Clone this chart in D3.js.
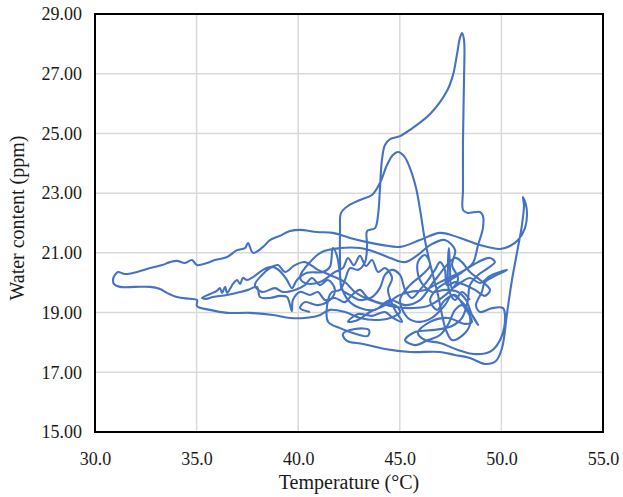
<!DOCTYPE html>
<html>
<head>
<meta charset="utf-8">
<script src="https://cdn.jsdelivr.net/npm/d3@7"></script>
<style>
  body { margin: 0; background: #fff; }
</style>
</head>
<body>
<svg id="chart" width="623" height="497"></svg>
<script>
// Tick values
var xTicks = [30, 35, 40, 45, 50, 55];
var yTicks = [15, 17, 19, 21, 23, 25, 27, 29];

// Trajectory: temperature (°C) and water content (ppm)
var temp = [
  48.45, 48.06, 47.72, 47.42, 47.37, 47.42, 47.47, 47.57, 47.96, 48.45,
  48.95, 49.44, 49.93, 50.28, 49.78, 49.19, 49.04, 48.75, 48.95, 49.54,
  50.08, 50.18, 49.98, 49.49, 48.65, 47.86, 46.98, 46.24, 45.89, 46.49,
  47.37, 48.21, 48.55, 48.11, 47.72, 47.22, 46.83, 46.49, 46.88, 47.32,
  47.81, 48.21, 48.60, 48.85, 49.09, 49.09, 48.95, 48.31, 48.11, 48.11,
  48.11, 48.16, 48.16, 48.06, 47.96, 47.81, 47.62, 47.32, 46.49, 45.50,
  45.01, 44.52, 44.27, 44.12, 44.02, 43.93, 43.78, 43.39, 43.39, 43.29,
  42.94, 42.55, 42.30, 42.06, 41.66, 41.47, 41.47, 42.06, 42.55, 43.43,
  43.48, 42.79, 42.20, 42.40, 43.19, 44.27, 45.50, 46.98, 47.72, 48.45,
  49.19, 49.73, 50.03, 50.28, 50.52, 50.82, 51.01, 51.11, 51.06, 51.21,
  51.26, 51.16, 50.82, 50.42, 49.93, 48.95, 47.96, 46.98, 45.99, 45.01,
  44.17, 43.39, 42.55, 41.71, 40.92, 40.09, 39.60, 39.10, 38.61, 38.27,
  37.78, 37.53, 37.38, 36.99, 36.50, 35.91, 35.51, 35.02, 34.77, 34.43,
  34.04, 33.69, 33.30, 32.71, 32.07, 31.48, 31.13, 30.98, 30.89, 30.93,
  31.23, 31.97, 32.71, 33.20, 33.54, 34.04, 34.68, 35.02, 35.02, 35.66,
  36.50, 37.63, 38.76, 39.60, 40.33, 40.97, 41.56, 42.30, 43.04, 43.78,
  44.52, 45.01, 44.76, 44.02, 43.43, 43.04, 42.65, 42.30, 41.81, 41.32,
  40.97, 40.58, 40.09, 39.74, 39.69, 39.60, 39.45, 39.10, 38.61, 38.12,
  37.97, 37.53, 37.14, 36.50, 35.81, 35.46, 35.27, 35.66, 36.00, 36.15,
  36.25, 36.40, 36.50, 36.64, 36.79, 36.99, 37.14, 37.28, 37.48, 37.78,
  38.27, 38.71, 39.10, 39.45, 39.69, 39.94, 40.43, 41.22, 41.56, 41.71,
  41.91, 42.06, 42.16, 42.55, 43.04, 43.63, 44.02, 44.27, 44.62, 45.01,
  45.26, 45.60, 45.99, 46.39, 46.73, 46.98, 47.22, 47.32, 47.72, 48.21,
  48.70, 49.19, 49.44, 48.95, 48.45, 48.06, 47.72, 46.73, 45.99, 45.26,
  44.52, 43.78, 43.04, 42.45, 42.11, 42.06, 42.06, 42.11, 42.45, 43.04,
  43.63, 44.02, 44.37, 44.66, 44.91, 45.21, 45.50, 45.80, 46.04, 46.19,
  46.39, 46.63, 46.88, 47.08, 47.27, 47.57, 48.06, 48.45, 48.35, 47.96,
  47.57, 47.22, 46.58, 45.99, 45.40, 45.01, 45.50, 46.09, 46.49, 46.24,
  45.89, 45.99, 46.58, 47.22, 47.86, 48.26, 48.55, 48.85, 48.45, 48.06,
  47.72, 47.37, 46.98, 46.39, 45.75, 45.26, 45.75, 46.73, 47.57, 48.06,
  48.35, 48.45, 48.85, 49.34, 49.68, 49.44, 48.85, 48.21, 47.72, 46.98,
  46.24, 45.50, 44.91, 44.27, 43.53, 42.94, 42.45, 42.94, 43.63, 44.27,
  44.66, 45.11, 44.76, 44.42, 44.62, 44.27, 43.93, 43.63, 43.34, 43.04,
  42.74, 42.45, 42.20, 41.81, 41.07, 40.33, 40.09, 40.58, 41.17, 42.06,
  43.04, 43.78, 44.52, 45.26, 45.89, 46.49, 47.22, 47.72, 47.57, 47.86,
  46.49, 45.50, 44.52, 43.53, 42.79, 42.30, 41.56, 40.97, 40.33, 39.84,
  39.35, 39.01, 38.61, 38.22, 37.87, 38.22, 38.86, 39.25, 39.84, 40.33,
  40.68, 41.07, 41.47, 41.81, 41.56, 40.97, 40.33, 40.09, 40.58
];
var water = [
  19.42, 19.69, 19.42, 19.76, 20.59, 21.16, 20.49, 19.82, 19.99, 20.16,
  19.99, 20.23, 20.36, 20.43, 20.26, 20.02, 19.69, 19.25, 19.02, 19.15,
  19.15, 18.82, 18.15, 17.71, 17.61, 17.75, 17.98, 18.08, 18.32, 18.69,
  18.82, 18.62, 18.69, 19.25, 19.59, 19.42, 19.09, 19.42, 19.82, 20.02,
  20.23, 20.43, 20.66, 21.26, 21.83, 22.24, 22.37, 22.34, 22.44, 23.11,
  24.78, 26.79, 28.13, 28.36, 28.20, 27.63, 26.96, 26.42, 25.65, 25.12,
  24.91, 24.81, 24.61, 24.11, 23.11, 22.27, 21.83, 21.73, 21.26, 20.69,
  20.43, 20.49, 20.09, 19.76, 19.69, 19.42, 18.69, 18.48, 18.35, 18.22,
  18.42, 18.45, 18.28, 18.05, 17.95, 17.78, 17.68, 17.68, 17.58, 17.48,
  17.28, 17.38, 17.81, 18.99, 20.09, 21.20, 21.93, 22.60, 22.87, 22.60,
  22.27, 21.83, 21.43, 21.23, 21.13, 21.26, 21.50, 21.67, 21.43, 21.20,
  21.26, 21.36, 21.50, 21.67, 21.70, 21.77, 21.73, 21.57, 21.43, 21.20,
  21.00, 21.33, 21.16, 21.09, 20.86, 20.76, 20.66, 20.59, 20.76, 20.66,
  20.73, 20.69, 20.59, 20.49, 20.36, 20.29, 20.36, 20.26, 20.12, 19.96,
  19.86, 19.86, 19.86, 19.79, 19.66, 19.52, 19.46, 19.42, 19.22, 19.09,
  18.99, 18.99, 18.92, 18.82, 18.82, 18.89, 19.09, 19.02, 18.82, 18.75,
  18.82, 19.02, 19.25, 19.32, 19.49, 19.76, 19.59, 19.35, 19.49, 19.42,
  19.69, 19.59, 19.69, 19.42, 19.05, 19.25, 19.52, 19.56, 19.49, 19.52,
  19.86, 19.76, 19.69, 19.59, 19.52, 19.46, 19.49, 19.62, 19.73, 19.82,
  19.66, 19.86, 19.66, 19.79, 19.96, 20.09, 19.96, 20.16, 20.09, 20.19,
  20.43, 20.53, 20.39, 20.09, 19.82, 20.09, 20.33, 20.36, 20.53, 21.16,
  20.90, 20.26, 19.76, 19.59, 19.42, 19.52, 19.82, 20.26, 20.43, 20.26,
  19.76, 19.49, 19.76, 20.09, 20.43, 20.69, 20.43, 19.92, 20.02, 19.92,
  19.76, 19.56, 19.76, 20.09, 20.36, 20.69, 20.83, 20.09, 19.42, 19.25,
  19.42, 19.09, 19.15, 19.42, 19.92, 20.76, 21.77, 22.34, 22.57, 22.77,
  22.94, 23.34, 23.94, 24.28, 24.38, 24.24, 23.84, 23.17, 22.27, 21.60,
  20.93, 20.26, 19.59, 18.92, 18.42, 18.08, 18.22, 18.59, 19.09, 19.42,
  19.59, 19.25, 18.82, 18.69, 18.82, 19.42, 19.92, 20.26, 20.59, 20.93,
  20.69, 20.09, 19.69, 19.76, 19.69, 19.42, 18.92, 18.59, 19.02, 19.25,
  19.09, 18.59, 18.25, 18.08, 17.91, 18.08, 18.35, 18.42, 18.55, 18.82,
  19.42, 19.92, 20.26, 20.49, 20.69, 20.83, 20.69, 20.43, 20.26, 20.02,
  19.76, 19.69, 19.56, 19.25, 19.02, 18.75, 18.69, 18.95, 18.89, 19.02,
  18.82, 18.69, 19.09, 19.76, 20.16, 20.49, 20.36, 20.76, 20.56, 20.90,
  20.59, 20.83, 20.49, 20.36, 20.02, 19.99, 20.19, 20.69, 21.03, 21.16,
  21.16, 21.03, 20.83, 20.69, 20.93, 21.26, 21.43, 21.09, 20.59, 20.09,
  19.25, 19.15, 19.22, 19.42, 19.69, 20.02, 20.26, 20.43, 20.69, 20.59,
  20.36, 20.59, 20.49, 20.26, 19.92, 19.69, 19.82, 19.69, 19.76, 19.92,
  20.16, 19.92, 20.09, 19.76, 19.42, 19.25, 19.35, 19.15, 19.02
];

var svg = d3.select("#chart");

// plot area
var plotL = 95, plotR = 603, plotT = 14, plotB = 432;

var x = d3.scaleLinear().domain([30, 55]).range([plotL, plotR]);
var y = d3.scaleLinear().domain([15, 29]).range([plotB, plotT]);

// gridlines
svg.append("g").selectAll("line").data(xTicks.slice(1, -1)).enter().append("line")
    .attr("x1", function(d) { return x(d); })
    .attr("x2", function(d) { return x(d); })
    .attr("y1", plotT).attr("y2", plotB)
    .attr("stroke", "#d9d9d9").attr("stroke-width", 1.5);
svg.append("g").selectAll("line").data(yTicks.slice(1, -1)).enter().append("line")
    .attr("y1", function(d) { return y(d); })
    .attr("y2", function(d) { return y(d); })
    .attr("x1", plotL).attr("x2", plotR)
    .attr("stroke", "#d9d9d9").attr("stroke-width", 1.5);

// the trajectory
var pts = temp.map(function(t, i) { return [t, water[i]]; });
var line = d3.line()
    .x(function(d) { return x(d[0]); })
    .y(function(d) { return y(d[1]); })
    .curve(d3.curveCatmullRom.alpha(0.5));

svg.append("path").datum(pts)
    .attr("d", line)
    .attr("fill", "none")
    .attr("stroke", "#4472c4")
    .attr("stroke-width", 2.1)
    .attr("stroke-linejoin", "round");

// border
svg.append("rect")
    .attr("x", plotL).attr("y", plotT)
    .attr("width", plotR - plotL).attr("height", plotB - plotT)
    .attr("fill", "none").attr("stroke", "#000").attr("stroke-width", 2);

var serif = "'Liberation Serif', 'Times New Roman', serif";

// X axis
var xAxis = svg.append("g")
    .attr("transform", "translate(0," + plotB + ")")
    .call(d3.axisBottom(x).tickValues(xTicks).tickFormat(d3.format(".1f")).tickSize(0).tickPadding(20));
xAxis.select(".domain").remove();
xAxis.selectAll("text").style("font-size", "18px").style("font-family", serif).style("fill", "#1a1a1a");

// Y axis
var yAxis = svg.append("g")
    .attr("transform", "translate(" + plotL + ",0)")
    .call(d3.axisLeft(y).tickValues(yTicks).tickFormat(d3.format(".2f")).tickSize(0).tickPadding(13));
yAxis.select(".domain").remove();
yAxis.selectAll("text").style("font-size", "18px").style("font-family", serif).style("fill", "#1a1a1a");

// Labels
svg.append("text").text("Temperature (°C)")
    .attr("x", (plotL + plotR) / 2).attr("y", 489)
    .attr("text-anchor", "middle")
    .style("font-size", "20px").style("font-family", serif).style("fill", "#1a1a1a");
svg.append("text").text("Water content (ppm)")
    .attr("transform", "translate(24,218) rotate(-90)")
    .attr("text-anchor", "middle")
    .style("font-size", "20px").style("font-family", serif).style("fill", "#1a1a1a");
</script>
</body>
</html>
